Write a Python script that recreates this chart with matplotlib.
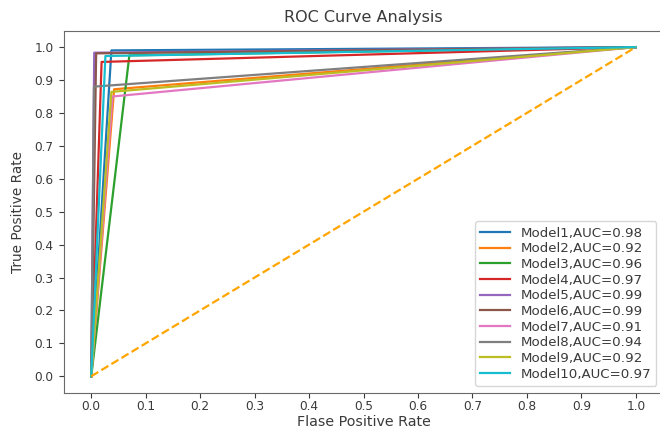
import numpy as np
import matplotlib
matplotlib.use("Agg")
import matplotlib.pyplot as plt

# ROC corner points: each curve is (0,0) -> (fpr,tpr) -> (1,1)
models = ["Model1", "Model2", "Model3", "Model4", "Model5",
          "Model6", "Model7", "Model8", "Model9", "Model10"]
auc = [0.98, 0.92, 0.96, 0.97, 0.99, 0.99, 0.91, 0.94, 0.92, 0.97]
fpr = [0.037, 0.042, 0.070, 0.019, 0.0055, 0.009, 0.039, 0.005, 0.037, 0.026]
tpr = [0.990, 0.872, 0.975, 0.955, 0.983, 0.981, 0.850, 0.880, 0.864, 0.973]
ticks = [0.0, 0.1, 0.2, 0.3, 0.4, 0.5, 0.6, 0.7, 0.8, 0.9, 1.0]

plt.rcParams['font.family'] = ['DejaVu Sans']
text_col = '#3a3a3a'

fig = plt.figure(figsize=(6.6, 4.3), dpi=100)
# the right spine sits just past the image edge in the reference
ax = fig.add_axes([0.097, 0.0867, 0.9076, 0.842])

for name, a, f, t in zip(models, auc, fpr, tpr):
    ax.plot([0, f, 1], [0, t, 1], lw=1.6, label=f'{name},AUC={a:.2f}')

ax.plot([0, 1], [0, 1], linestyle='--', color='orange', lw=1.6)

ax.set_xticks(ticks)
ax.set_yticks(ticks)
ax.tick_params(labelsize=8.7, colors=text_col)
ax.tick_params(axis='x', pad=2)
ax.tick_params(axis='y', pad=4)
for sp in ax.spines.values():
    sp.set_color('#6a6a6a')

ax.set_title('ROC Curve Analysis', fontsize=11.5, color=text_col)
ax.set_xlabel('Flase Positive Rate', fontsize=10.3, color=text_col, labelpad=1)
ax.set_ylabel('True Positive Rate', fontsize=9.8, color=text_col, labelpad=7)

leg = ax.legend(loc='lower right', fontsize=9.6, labelspacing=0.2,
                handlelength=2.2, borderaxespad=0.5)
for txt in leg.get_texts():
    txt.set_color(text_col)

fig.savefig('out.png', dpi=100)
